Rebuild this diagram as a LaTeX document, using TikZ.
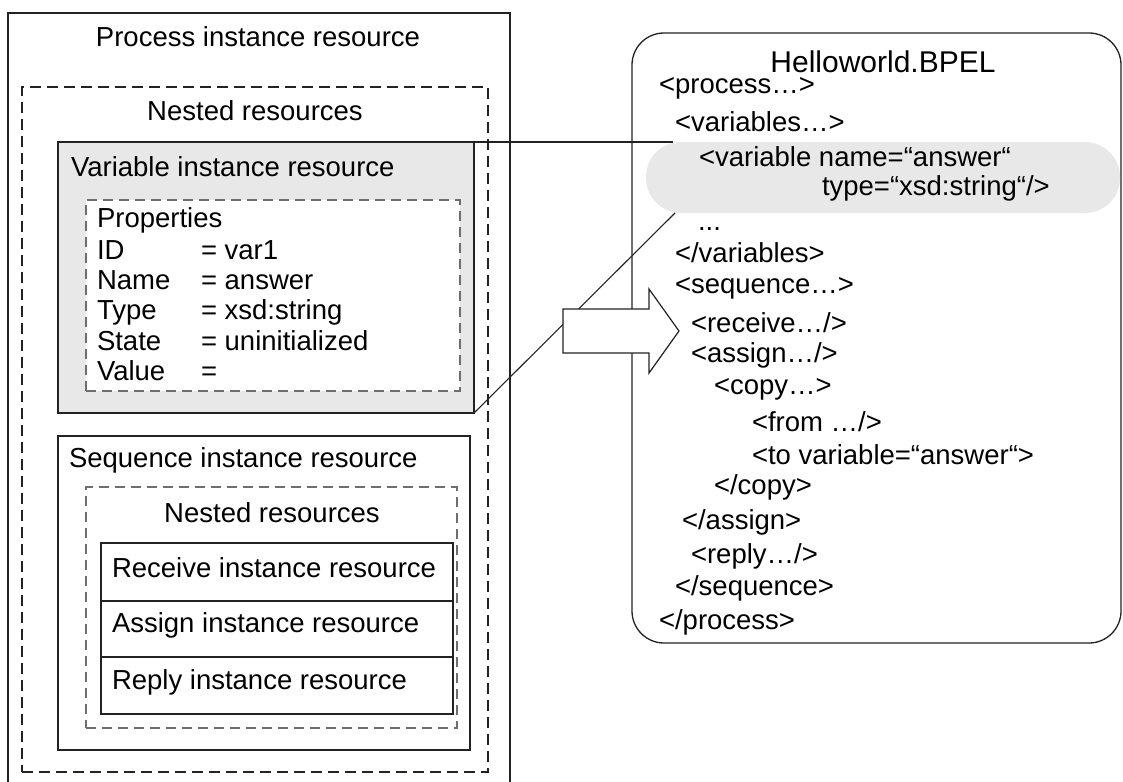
\documentclass[tikz,border=0pt]{standalone}
\usepackage{fontspec}
\setmainfont{Liberation Sans}
\newcommand\bodyfont{\fontsize{27.5}{33}\selectfont}
\newcommand\titlefont{\fontsize{30}{36}\selectfont}
\definecolor{boxgray}{HTML}{E8E8E8}
\definecolor{dashgray}{HTML}{6E6E6E}
\definecolor{ink}{HTML}{222222}
\tikzset{
  box/.style={draw=ink, line width=1.3pt, inner sep=0pt, outer sep=0pt, anchor=north west},
  outerdash/.style={box, dash pattern=on 11pt off 6pt},
  innerdash/.style={box, draw=dashgray, line width=1.6pt, dash pattern=on 10pt off 6pt},
  txt/.style={inner sep=0pt, outer sep=0pt, font=\bodyfont, text=black, anchor=west},
  btxt/.style={txt, anchor=base west},
  ctxt/.style={txt, anchor=center},
  conn/.style={draw=ink, line width=1.1pt},
}
\begin{document}
\begin{tikzpicture}[x=1pt, y=-1pt]
\useasboundingbox (0,0) rectangle (1123,781);
\clip (0,0) rectangle (1123,781);
\fill[white] (0,0) rectangle (1123,781);

% left side boxes
\node[box, minimum width=502pt, minimum height=800pt] (proc) at (8,13) {};
\node[outerdash, minimum width=466pt, minimum height=685pt] (nest) at (22,87) {};
\node[box, fill=boxgray, minimum width=416pt, minimum height=271pt] (var) at (58,142) {};
\node[innerdash, fill=white, minimum width=374pt, minimum height=191pt] (props) at (86,200) {};
\node[box, minimum width=412pt, minimum height=314pt] (seq) at (58,436) {};
\node[innerdash, minimum width=371pt, minimum height=241pt] (seqnest) at (86,487) {};
\node[box, minimum width=352pt, minimum height=58pt] (recv) at (101,543) {};
\node[box, minimum width=352pt, minimum height=56pt] (asg) at (101,601) {};
\node[box, minimum width=352pt, minimum height=57pt] (rep) at (101,657) {};

% left texts
\node[ctxt] (tproc) at (258,37) {Process instance resource};
\node[ctxt] (tnest) at (255,111) {Nested resources};
\node[txt] (tvar) at (71,167) {Variable instance resource};
\node[btxt] (tprops) at (97,227) {Properties};
\node[btxt] (kid) at (97,259) {ID};
\node[btxt] (vid) at (201,259) {= var1};
\node[btxt] (kname) at (97,289) {Name};
\node[btxt] (vname) at (201,289) {= answer};
\node[btxt] (ktype) at (97,319) {Type};
\node[btxt] (vtype) at (201,319) {= xsd:string};
\node[btxt] (kstate) at (97,350) {State};
\node[btxt] (vstate) at (201,350) {= uninitialized};
\node[btxt] (kval) at (97,380) {Value};
\node[btxt] (vval) at (201,380) {=};
\node[txt] (tseq) at (69,460) {Sequence instance resource};
\node[ctxt] (tseqnest) at (272,513) {Nested resources};
\node[txt] (trecv) at (112,568) {Receive instance resource};
\node[txt] (tasg) at (112,625) {Assign instance resource};
\node[txt] (trep) at (112,682) {Reply instance resource};

% right side
\node[box, rounded corners=32pt, minimum width=489pt, minimum height=610pt] (bpel) at (632,33) {};
\node[box, draw=none, fill=boxgray, rounded corners=35pt, minimum width=474pt, minimum height=71pt] (pill) at (646,142) {};

\node[ctxt, font=\titlefont] (title) at (883,62) {Helloworld.BPEL};
\node[txt] (c1) at (659,88) {<process…>};
\node[txt] (c2) at (675,122) {<variables…>};
\node[txt] (c3) at (699,157) {<variable name=“answer“};
\node[txt] (c4) at (822,188) {type=“xsd:string“/>};
\node[btxt] (c5) at (698,230) {...};
\node[txt] (c6) at (675,253) {</variables>};
\node[txt] (c7) at (675,288) {<sequence…>};
\node[txt] (c8) at (691,323) {<receive…/>};
\node[txt] (c9) at (691,355) {<assign…/>};
\node[txt] (c10) at (714,389) {<copy…>};
\node[txt] (c11) at (752,422) {<from …/>};
\node[txt] (c12) at (752,455) {<to variable=“answer“>};
\node[txt] (c13) at (714,487) {</copy>};
\node[txt] (c14) at (682,522) {</assign>};
\node[txt] (c15) at (691,556) {<reply…/>};
\node[txt] (c16) at (675,588) {</sequence>};
\node[txt] (c17) at (659,622) {</process>};

% connectors from variable resource to its declaration
\draw[conn] (var.north east) -- ([xshift=27pt]pill.north west);
\draw[conn] (var.south east) -- ([xshift=29pt]pill.south west);

% block arrow
\filldraw[fill=white, draw=ink, line width=1.2pt]
  (563,309) -- (649,309) -- (649,289) -- (679,331) -- (649,373) -- (649,353) -- (563,353) -- cycle;
\end{tikzpicture}
\end{document}
